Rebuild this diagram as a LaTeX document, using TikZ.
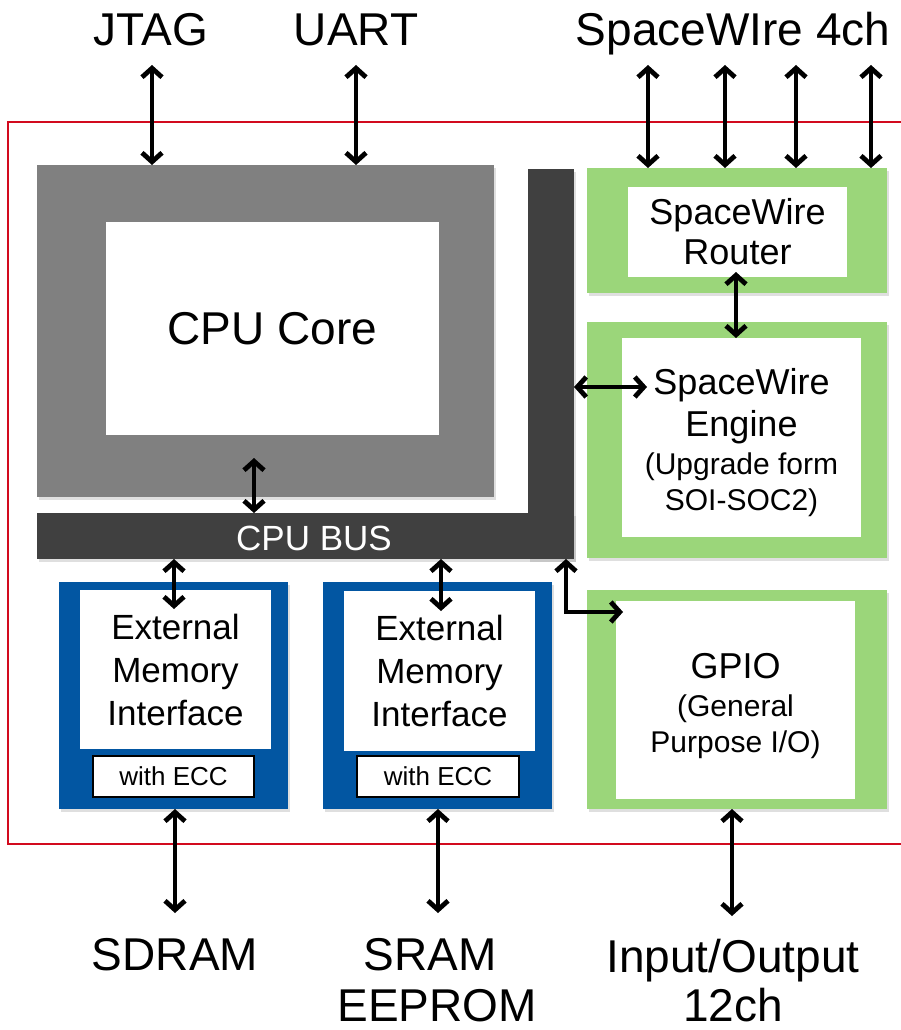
\documentclass[tikz,border=0pt]{standalone}
\usepackage{fontspec}
\setmainfont{Liberation Sans}
\usetikzlibrary{arrows.meta, shadows}
\definecolor{cpugray}{RGB}{128,128,128}
\definecolor{busgray}{RGB}{64,64,64}
\definecolor{swgreen}{RGB}{155,214,122}
\definecolor{memblue}{RGB}{2,86,162}
\definecolor{framered}{RGB}{210,10,30}

\begin{document}
\begin{tikzpicture}[x=1pt, y=-1pt,
        block/.style={inner sep=0pt, outer sep=0pt,
            drop shadow={shadow xshift=2pt, shadow yshift=-3pt, opacity=0.25}},
        whitebox/.style={fill=white, inner sep=0pt, outer sep=0pt, align=center},
        io/.style={line width=4.8pt,
            {Straight Barb[length=9pt,width=20pt]}-{Straight Barb[length=9pt,width=20pt]}},
        biglabel/.style={anchor=base, font=\fontsize{46}{52}\selectfont}]

        \useasboundingbox (0,0) rectangle (901,1030);

        % Chip frame (open on the right)
        \draw[framered, line width=1.5pt] (905,122) -- (8,122) -- (8,844) -- (905,844);

        % CPU core
        \node[block, fill=cpugray, minimum width=457pt, minimum height=332pt] (cpu) at (265.5,331) {};
        \node[whitebox, minimum width=333pt, minimum height=213pt,
            font=\fontsize{46}{52}\selectfont] (core) at (272.5,328.5) {CPU Core};

        % CPU bus
        \node[block, fill=busgray, minimum width=46pt, minimum height=390pt] (busv) at (551,364) {};
        \node[block, fill=busgray, minimum width=537pt, minimum height=46pt] (bus) at (305.5,536) {};
        \node[text=white, font=\fontsize{35}{40}\selectfont] (buslabel) at (314,538) {CPU BUS};

        % SpaceWire router and engine
        \node[block, fill=swgreen, minimum width=300pt, minimum height=125pt] (router) at (737,230.5) {};
        \node[whitebox, minimum width=219pt, minimum height=90pt,
            font=\fontsize{36}{40}\selectfont] (routerw) at (737.5,232) {SpaceWire\\Router};

        \node[block, fill=swgreen, minimum width=300pt, minimum height=236pt] (engine) at (737,440) {};
        \node[whitebox, minimum width=239pt, minimum height=199pt,
            font=\fontsize{36}{42}\selectfont] (enginew) at (741.5,437.5)
            {\rule{0pt}{37pt}SpaceWire\\Engine\\[-4pt]{\fontsize{30}{36}\selectfont (Upgrade form}\\[-6pt]
            {\fontsize{30}{36}\selectfont SOI-SOC2)}};

        % GPIO
        \node[block, fill=swgreen, minimum width=300pt, minimum height=219pt] (gpio) at (737,699.5) {};
        \node[whitebox, minimum width=239pt, minimum height=198pt,
            font=\fontsize{36}{42}\selectfont] (gpiow) at (735.5,700)
            {\rule{0pt}{38pt}GPIO\\[-4pt]{\fontsize{30}{36}\selectfont (General}\\[-6pt]
            {\fontsize{30}{36}\selectfont Purpose I/O)}};

        % External memory interfaces
        \node[block, fill=memblue, minimum width=229pt, minimum height=227pt] (emi1) at (173.5,695.5) {};
        \node[whitebox, minimum width=191pt, minimum height=159pt,
            font=\fontsize{35}{43}\selectfont] (emi1w) at (175.5,669.5) {External\\Memory\\Interface};
        \node[whitebox, draw=black, line width=1.5pt, minimum width=161pt, minimum height=41pt,
            font=\fontsize{26}{30}\selectfont] (ecc1) at (173.5,776.5) {with ECC};

        \node[block, fill=memblue, minimum width=229pt, minimum height=227pt] (emi2) at (437.5,695.5) {};
        \node[whitebox, minimum width=191pt, minimum height=160pt,
            font=\fontsize{35}{43}\selectfont] (emi2w) at (439.5,671) {External\\Memory\\Interface};
        \node[whitebox, draw=black, line width=1.5pt, minimum width=162pt, minimum height=41pt,
            font=\fontsize{26}{30}\selectfont] (ecc2) at (438,776.5) {with ECC};

        % Outside labels
        \node[biglabel] (jtag) at (151,46) {JTAG};
        \node[biglabel] (uart) at (356,46) {UART};
        \node[biglabel] (spw) at (733,46) {SpaceWIre 4ch};
        \node[biglabel] (sdram) at (175,970) {SDRAM};
        \node[biglabel] (sram) at (430,970) {SRAM};
        \node[biglabel] (eeprom) at (437,1021) {EEPROM};
        \node[biglabel] (inout) at (733,972) {Input/Output};
        \node[biglabel] (ch12) at (733,1021) {12ch};

        % Top links
        \coordinate (jtagp) at (152,65);
        \coordinate (uartp) at (356,65);
        \draw[io] (jtagp) -- (jtagp |- cpu.north);
        \draw[io] (uartp) -- (uartp |- cpu.north);
        \foreach \x [count=\i] in {648,725,796,871} {
            \coordinate (swp\i) at (\x,65);
            \draw[io] (swp\i) -- (swp\i |- router.north);
        }

        % Internal links
        \coordinate (coreb) at (254,458);
        \draw[io] (coreb) -- (coreb |- bus.north);
        \coordinate (rtout) at (736,272);
        \draw[io] (rtout) -- (rtout |- enginew.north);
        \coordinate (engin) at (647,387);
        \draw[io] (engin -| busv.east) -- (engin);
        \coordinate (emi1in) at (174,609);
        \draw[io] (emi1in |- bus.south) -- (emi1in);
        \coordinate (emi2in) at (441,611);
        \draw[io] (emi2in |- bus.south) -- (emi2in);
        \coordinate (busout) at (566,559);
        \coordinate (gpioin) at (623,612);
        \draw[io] (busout |- bus.south) |- (gpioin);

        % Bottom links
        \coordinate (sdramp) at (175,913);
        \coordinate (sramp) at (438,913);
        \coordinate (iop) at (732,916);
        \draw[io] (sdramp |- emi1.south) -- (sdramp);
        \draw[io] (sramp |- emi2.south) -- (sramp);
        \draw[io] (iop |- gpio.south) -- (iop);

    \end{tikzpicture}
\end{document}
